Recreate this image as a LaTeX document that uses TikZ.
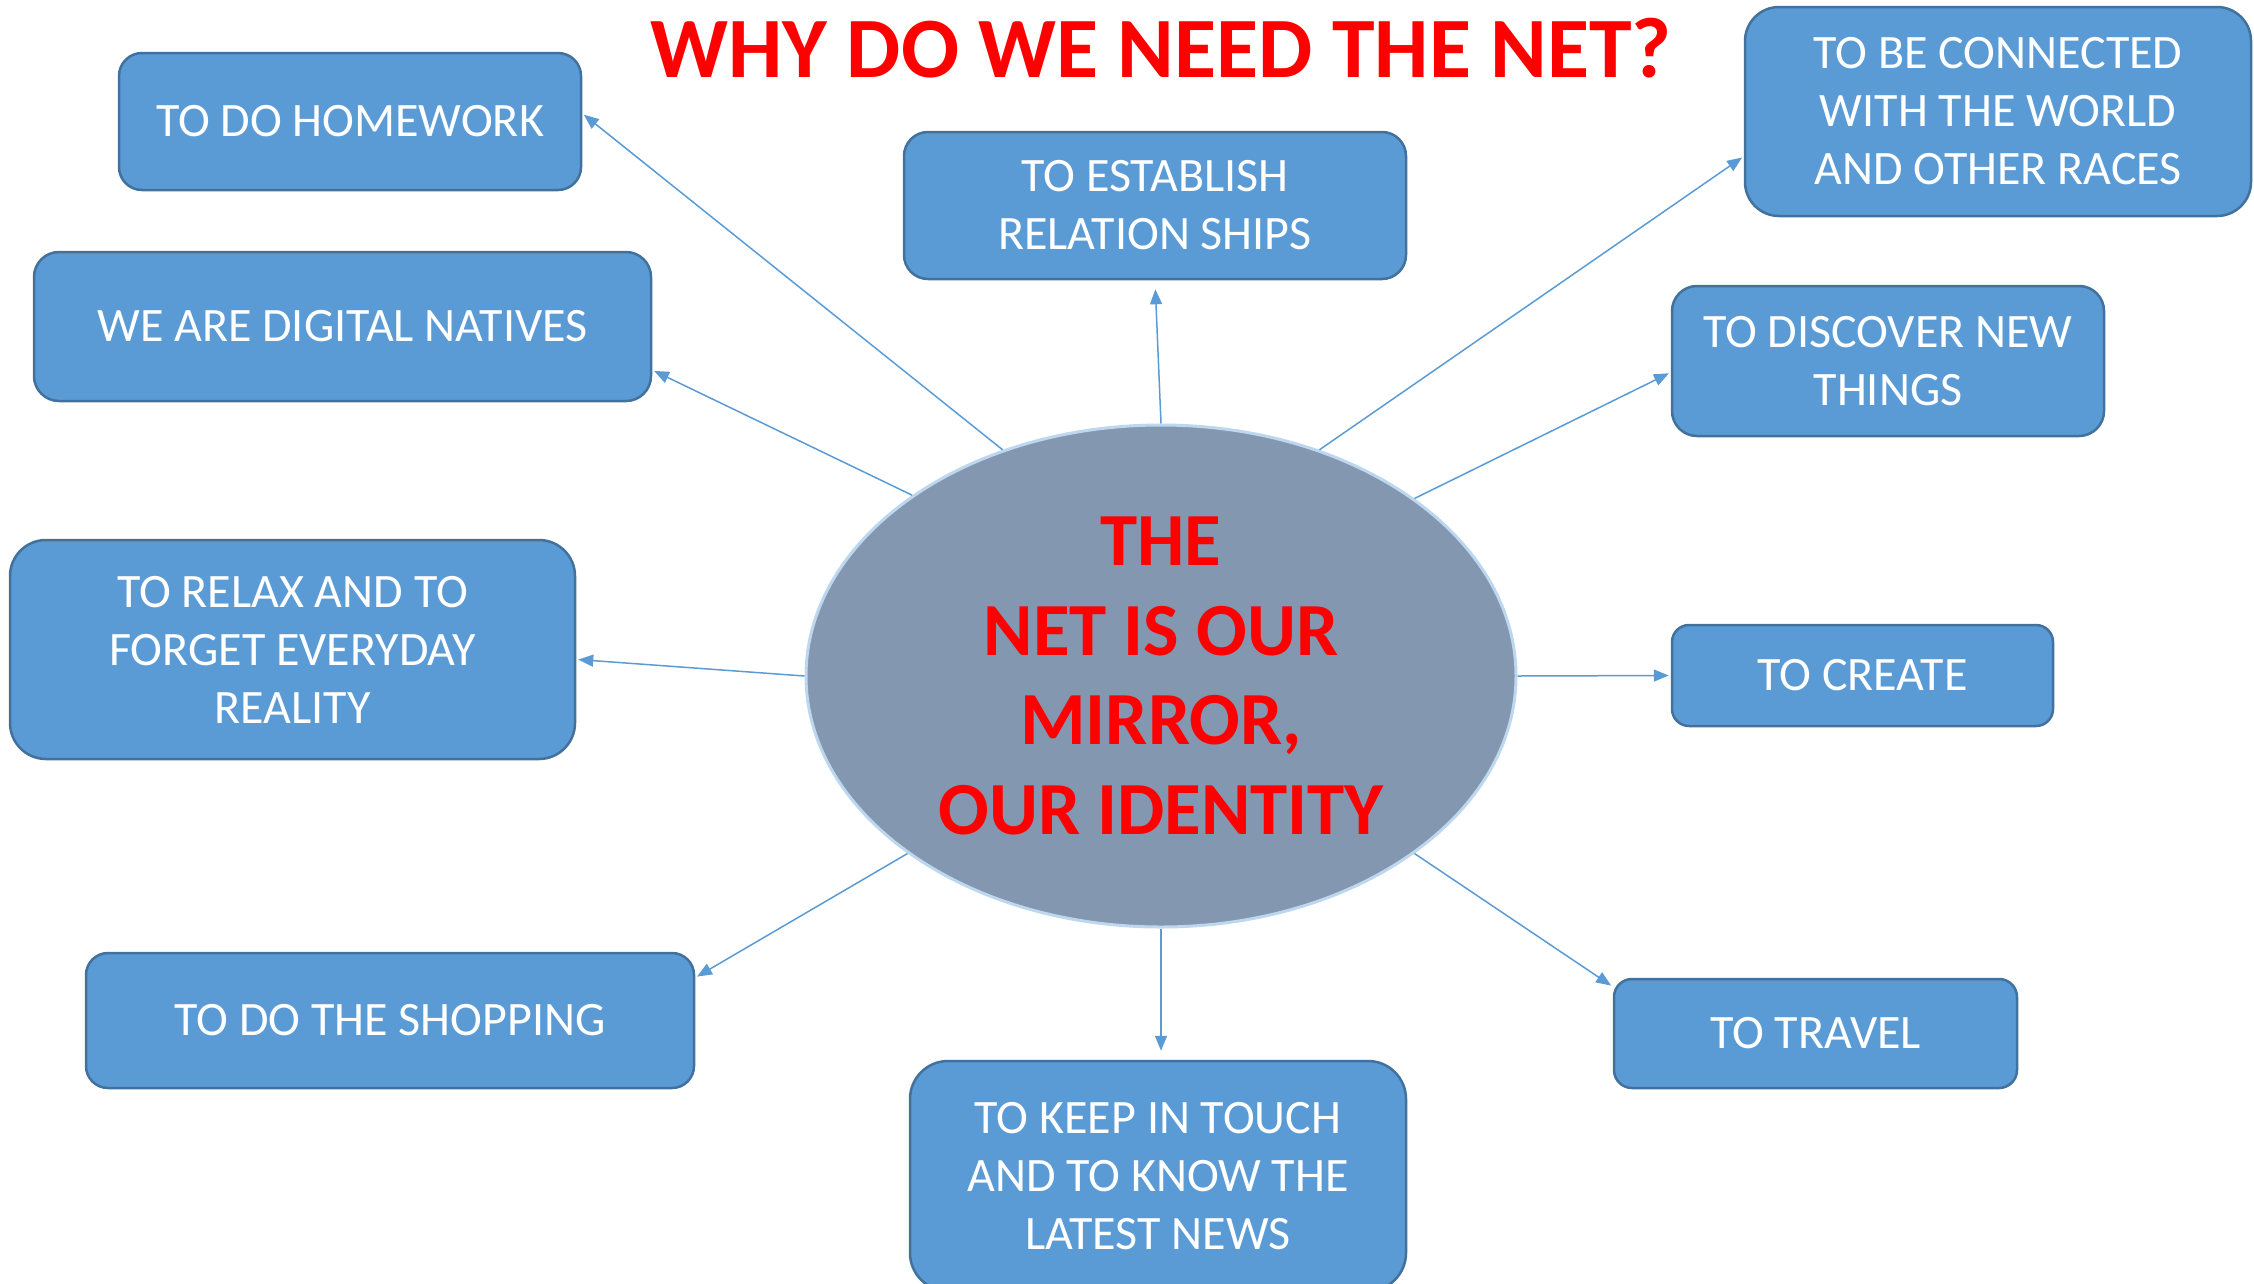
\documentclass[tikz,border=0pt]{standalone}
\usepackage{fontspec}
\setmainfont{Carlito}
\usetikzlibrary{shapes.geometric,arrows.meta}
\definecolor{boxfill}{HTML}{5B9BD5}
\definecolor{boxline}{HTML}{41719C}
\definecolor{ellfill}{HTML}{8497B0}
\definecolor{ellline}{HTML}{BDD7EE}
\definecolor{titlered}{HTML}{FF0000}
\begin{document}
\begin{tikzpicture}[x=1pt,y=-1pt,
  box/.style={draw=boxline, line width=2.5pt, fill=boxfill, text=white, align=center, inner sep=0pt, font=\fontsize{48}{58}\selectfont},
  conn/.style={draw=boxfill, line width=1.5pt, -{Triangle[length=15pt,width=12pt]}, shorten >=2pt}]
\useasboundingbox (0,0) rectangle (2254,1283);
\node[anchor=base, text=titlered, font=\fontsize{86}{100}\selectfont\bfseries] (title) at (1161,77) {WHY DO WE NEED THE NET?};
\node[box, minimum width=462pt, minimum height=137pt, rounded corners=23pt] (hw) at (350,121.5) {TO DO HOMEWORK};
\node[box, minimum width=502pt, minimum height=147pt, rounded corners=24pt] (est) at (1155,205.5) {TO ESTABLISH\\RELATION SHIPS};
\node[box, minimum width=506pt, minimum height=209pt, rounded corners=34pt] (con) at (1998,111.5) {TO BE CONNECTED\\WITH THE WORLD\\AND OTHER RACES};
\node[box, minimum width=617pt, minimum height=149pt, rounded corners=25pt] (dn) at (342.5,326.5) {WE ARE DIGITAL NATIVES};
\node[box, minimum width=432pt, minimum height=150pt, rounded corners=25pt] (disc) at (1888,361) {TO DISCOVER NEW\\THINGS};
\node[box, minimum width=565pt, minimum height=219pt, rounded corners=36pt] (relax) at (292.5,649.5) {TO RELAX AND TO\\FORGET EVERYDAY\\REALITY};
\node[box, minimum width=381pt, minimum height=101pt, rounded corners=17pt] (create) at (1862.5,675.5) {TO CREATE};
\node[box, minimum width=608pt, minimum height=135pt, rounded corners=22pt] (shop) at (390,1020.5) {TO DO THE SHOPPING};
\node[box, minimum width=403pt, minimum height=109pt, rounded corners=18pt] (travel) at (1815.5,1033.5) {TO TRAVEL};
\node[box, minimum width=496pt, minimum height=230pt, rounded corners=38pt] (keep) at (1158,1176) {TO KEEP IN TOUCH\\AND TO KNOW THE\\LATEST NEWS};
\node[ellipse, draw=ellline, line width=3pt, fill=ellfill, minimum width=710pt, minimum height=502pt, inner sep=0pt, align=center, text=titlered, font=\fontsize{75}{89.6}\selectfont\bfseries] (ell) at (1161,676) {THE\\NET IS OUR\\MIRROR,\\OUR IDENTITY};
\draw[conn] (ell.125.8) -- (hw.2);
\draw[conn] (ell.144.4) -- (dn.-8.7);
\draw[conn] (ell.180) -- (relax.-2.7);
\draw[conn] (ell.215.5) -- (shop.8);
\draw[conn, shorten >=9pt] (ell.270) -- (ell.270 |- keep.north);
\draw[conn] (ell.-35.2) -- (travel.167.6);
\draw[conn] (ell.0) -- (create.180);
\draw[conn] (ell.35.4) -- (disc.183.4);
\draw[conn] (ell.55.7) -- (con.190.7);
\draw[conn, shorten >=9pt] (ell.90) -- (est.south);
\end{tikzpicture}
\end{document}
